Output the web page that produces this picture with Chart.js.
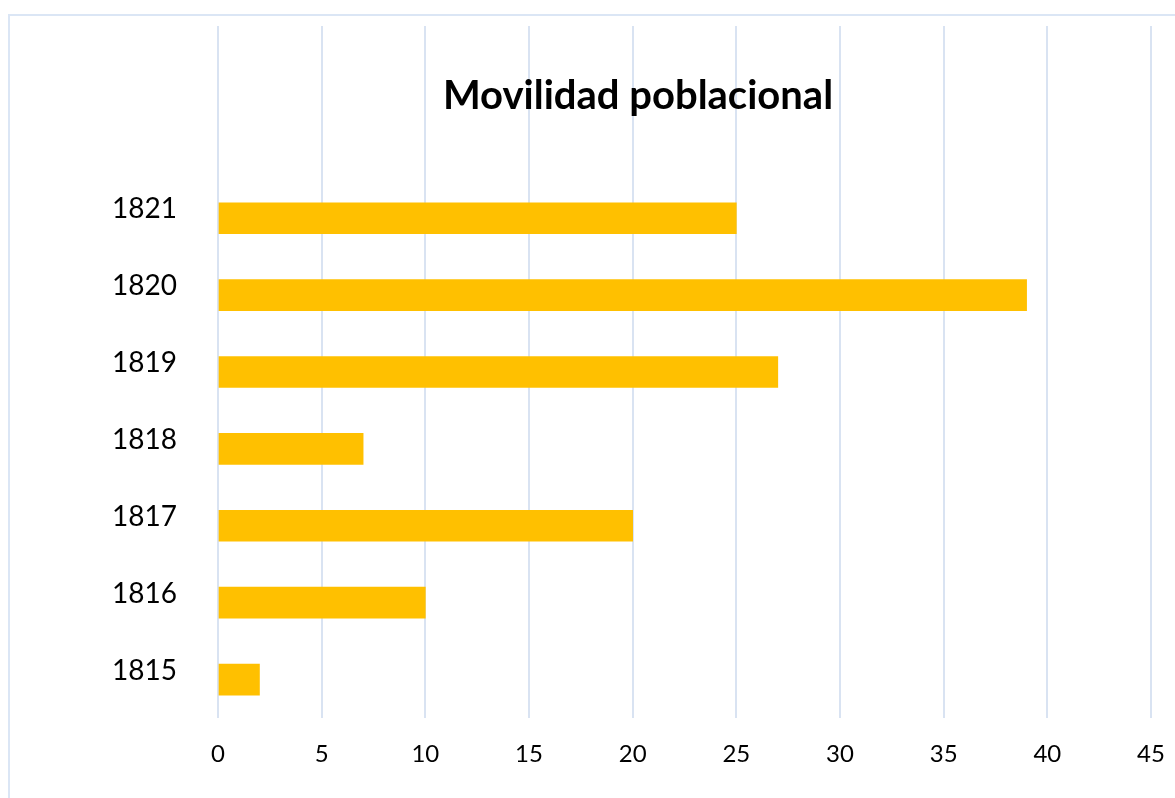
<!DOCTYPE html>
<html lang="es">
<head>
  <meta charset="UTF-8">
  <title>Movilidad poblacional</title>
  <script src="https://cdn.jsdelivr.net/npm/chart.js"></script>
  <style>
    body {
      margin: 0;
      background: #ffffff;
    }
    .frame {
      position: absolute;
      left: 8px;
      top: 14px;
      width: 1200px;
      height: 820px;
      border: 2px solid #dbe6f5;
    }
    .chart-box {
      position: absolute;
      left: 0;
      top: 0;
      width: 1175px;
      height: 798px;
    }
  </style>
</head>
<body>

  <div class="frame"></div>
  <div class="chart-box">
    <canvas id="movChart"></canvas>
  </div>

  <script>
    // data
    const years = ['1815', '1816', '1817', '1818', '1819', '1820', '1821'];
    const movimientos = [2, 10, 20, 7, 27, 39, 25];
    const xTicks = [0, 5, 10, 15, 20, 25, 30, 35, 40, 45];
    const titulo = 'Movilidad poblacional';

    const points = years.map((y, i) => ({ x: movimientos[i], y: i }));

    // title sits inside the plot area, over the grid
    const titlePlugin = {
      id: 'insideTitle',
      afterDraw(chart) {
        const ctx = chart.ctx;
        ctx.save();
        ctx.font = 'bold 40px Lato';
        ctx.fillStyle = '#000000';
        ctx.textAlign = 'center';
        ctx.textBaseline = 'middle';
        ctx.fillText(titulo, 638, 96);
        ctx.restore();
      }
    };

    new Chart(document.getElementById('movChart'), {
      type: 'bar',
      data: {
        datasets: [{
          label: titulo,
          data: points,
          backgroundColor: '#ffc000',
          barThickness: 31
        }]
      },
      options: {
        indexAxis: 'y',
        responsive: true,
        maintainAspectRatio: false,
        animation: false,
        layout: {
          padding: { top: 26, right: 24, left: 0, bottom: 0 }
        },
        plugins: {
          legend: { display: false },
          tooltip: { enabled: false }
        },
        scales: {
          x: {
            type: 'linear',
            min: 0,
            max: 45,
            afterBuildTicks: axis => {
              axis.ticks = xTicks.map(v => ({ value: v }));
            },
            afterFit: axis => {
              axis.height = 80;
              axis.paddingLeft = 0;
              axis.paddingRight = 0;
            },
            grid: {
              color: '#d9e3f2',
              lineWidth: 2,
              drawTicks: false
            },
            border: { display: false },
            ticks: {
              padding: 22,
              color: '#000000',
              font: { family: 'Lato', size: 24 }
            }
          },
          y: {
            type: 'linear',
            min: -0.5,
            max: 8.5,
            offset: false,
            afterBuildTicks: axis => {
              axis.ticks = years.map((y, i) => ({ value: i }));
            },
            afterFit: axis => {
              axis.width = 218;
              axis.paddingTop = 0;
              axis.paddingBottom = 0;
            },
            grid: { display: false, offset: false },
            border: { display: false },
            ticks: {
              padding: 33,
              labelOffset: -9,
              color: '#000000',
              font: { family: 'Lato', size: 28 },
              callback: value => years[value]
            }
          }
        }
      },
      plugins: [titlePlugin]
    });
  </script>

</body>
</html>
